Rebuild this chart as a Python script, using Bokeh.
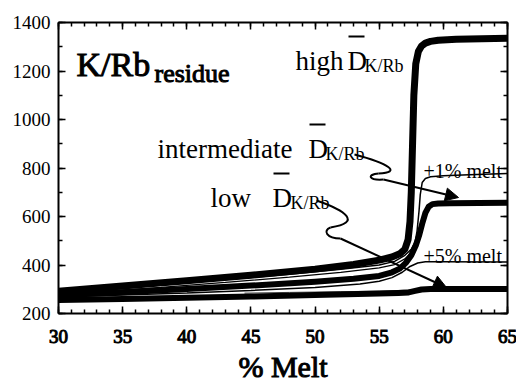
from bokeh.plotting import figure
from bokeh.models import LinearAxis, SingleIntervalTicker, Range1d, Arrow, NormalHead
from bokeh.models.glyphs import Text
from bokeh.core.properties import value
from bokeh.embed import file_html
from bokeh.resources import INLINE

# ---- data ----
melt_high = [30, 35, 40, 45, 50, 53, 55, 56, 56.6, 57.0, 57.25, 57.4, 57.5, 57.6, 57.7, 57.85, 58.05, 58.3, 58.6, 59.0, 59.6, 61, 63, 65]
kr_high = [292, 313, 335, 358, 383, 402, 420, 433, 446, 465, 505, 580, 700, 900, 1100, 1230, 1280, 1303, 1315, 1322, 1327, 1331, 1333, 1335]

melt_int = [30, 35, 40, 45, 50, 53, 55, 56, 56.6, 57.1, 57.5, 57.85, 58.1, 58.35, 58.6, 58.85, 59.15, 59.6, 60.5, 65]
kr_int = [275, 288, 301, 315, 331, 343, 355, 370, 385, 410, 440, 480, 520, 570, 615, 640, 651, 654, 655, 657]

melt_low = [30, 35, 40, 45, 50, 55, 56.5, 57.3, 57.8, 58.3, 59, 61, 65]
kr_low = [256, 260, 265, 270, 276, 282, 285, 287, 293, 299, 301, 301, 301]

melt_p1 = [30, 33, 38, 43, 48, 52, 55, 56.2, 57.0, 57.5, 57.8, 57.95, 58.1, 58.2, 58.35, 58.6, 59.0, 60, 62, 65]
kr_p1 = [288, 296, 318, 340, 362, 382, 400, 415, 440, 465, 495, 540, 620, 690, 740, 757, 764, 768, 772, 777]

melt_p5 = [30, 35, 40, 45, 50, 53.5, 55, 56, 56.8, 57.4, 58, 58.6, 60, 65]
kr_p5 = [268, 276, 285, 295, 307, 322, 333, 348, 370, 394, 408, 413, 413, 412]

melt_extra = [33, 38, 43, 48, 52, 55, 56.2, 57.0, 57.5, 57.9, 58.2, 58.5, 58.8, 59.2, 60]
kr_extra = [290, 308, 328, 350, 370, 388, 402, 425, 452, 495, 550, 610, 640, 652, 655]

melt_gray = [44.5, 48, 52, 55, 56.5, 57.3, 58]
kr_gray = [284, 287, 290, 292, 295, 297, 299]

x_tick_values = [30, 35, 40, 45, 50, 55, 60, 65]
x_tick_labels = ["30", "35", "40", "45", "50", "55", "60", "65"]
y_tick_values = [200, 400, 600, 800, 1000, 1200, 1400]
y_tick_labels = ["200", "400", "600", "800", "1000", "1200", "1400"]

X0, X1, Y0, Y1 = 30, 65, 200, 1400
W, H = 516, 383
# plot box in page pixels (left, right, top, bottom)
BL, BR, BT, BB = 58, 507, 22, 313


def fx(px):
    return X0 + (px - BL) * (X1 - X0) / (BR - BL)


def fy(py):
    return Y0 + (BB - py) * (Y1 - Y0) / (BB - BT)


FONT = "Liberation Serif"
HAS_OUTLINE = "text_outline_color" in Text.properties()

# the frame spans the whole page; the axes are pinned to the data box
p = figure(width=W, height=H, x_range=Range1d(fx(0), fx(W)), y_range=Range1d(fy(H), fy(0)),
           output_backend="svg", toolbar_location=None,
           x_axis_location=None, y_axis_location=None,
           min_border_left=0, min_border_right=0, min_border_top=0, min_border_bottom=0)
p.grid.visible = False
p.outline_line_color = None
p.background_fill_color = "white"
p.border_fill_color = "white"


def make_axis(interval, minor, loc, bounds):
    ax = LinearAxis(fixed_location=loc, bounds=bounds)
    ax.ticker = SingleIntervalTicker(interval=interval, num_minor_ticks=minor)
    ax.axis_line_width = 2
    ax.axis_line_color = "black"
    ax.major_tick_in = 7
    ax.major_tick_out = 0
    ax.minor_tick_in = 4
    ax.minor_tick_out = 0
    ax.major_tick_line_width = 1.5
    ax.minor_tick_line_width = 1.5
    ax.major_tick_line_color = "black"
    ax.minor_tick_line_color = "black"
    ax.major_label_text_font_size = "0px"
    ax.major_label_text_color = None
    ax.major_label_standoff = 0
    return ax


p.add_layout(make_axis(5, 5, Y0, (X0, X1)), "below")
p.add_layout(make_axis(5, 5, Y1, (X0, X1)), "above")
p.add_layout(make_axis(200, 2, X0, (Y0, Y1)), "left")
p.add_layout(make_axis(200, 2, X1, (Y0, Y1)), "right")

# ---- curves ----
p.line(melt_gray, kr_gray, line_width=1, line_color="#444444")
p.line(melt_p5, kr_p5, line_width=1.5, line_color="black")
p.line(melt_extra, kr_extra, line_width=1.3, line_color="black")
p.line(melt_p1, kr_p1, line_width=1.5, line_color="black")
p.line(melt_low, kr_low, line_width=6, line_color="black", line_join="round")
p.line(melt_int, kr_int, line_width=6, line_color="black", line_join="round")
p.line(melt_high, kr_high, line_width=7, line_color="black", line_join="round")


# ---- texts ----
def put_text(xs, ys, texts, size, bold=False, align="left", baseline="alphabetic"):
    kw = dict(text_font=value(FONT), text_font_size=size, text_align=align,
              text_baseline=baseline, text_color="black")
    if bold and HAS_OUTLINE:
        kw["text_outline_color"] = "black"
    p.text(x=xs, y=ys, text=texts, **kw)


# tick labels at the tick values
put_text(x_tick_values, [fy(336)] * len(x_tick_values), x_tick_labels, "19px", bold=True, align="center")
put_text([fx(50)] * len(y_tick_values), y_tick_values, y_tick_labels, "19px", align="right", baseline="middle")
put_text([(X0 + X1) / 2], [fy(366)], ["% Melt"], "30px", bold=True, align="center")


def txt(px, py, s, size, bold=False):
    put_text([fx(px)], [fy(py)], [s], size, bold=bold)


def overbar(px0, px1, py):
    p.segment(x0=[fx(px0)], y0=[fy(py)], x1=[fx(px1)], y1=[fy(py)], line_width=1.8, line_color="black")


txt(76, 64, "K/Rb", "34px", True)
txt(154, 73, "residue", "26px", True)

txt(295, 60, "high", "27px")
txt(347, 60, "D", "27px")
overbar(348, 364, 36)
txt(364, 65, "K/Rb", "18px")

txt(157, 148, "intermediate", "27px")
txt(308, 148, "D", "27px")
overbar(309, 325, 124)
txt(325, 153, "K/Rb", "18px")

txt(210, 197, "low", "27px")
txt(272, 197, "D", "27px")
overbar(273, 289, 173)
txt(290, 202, "K/Rb", "18px")

txt(423, 170, "+1% melt", "20px")
txt(423, 255, "+5% melt", "20px")


def bez(p0, c0, c1, p1):
    p.bezier(x0=[fx(p0[0])], y0=[fy(p0[1])], x1=[fx(p1[0])], y1=[fy(p1[1])],
             cx0=[fx(c0[0])], cy0=[fy(c0[1])], cx1=[fx(c1[0])], cy1=[fy(c1[1])],
             line_width=2, line_color="black")


def arrow(a, b):
    p.add_layout(Arrow(end=NormalHead(size=13, fill_color="black", line_color="black", line_width=1),
                       x_start=fx(a[0]), y_start=fy(a[1]), x_end=fx(b[0]), y_end=fy(b[1]),
                       line_width=2, line_color="black"))


# arrow from "intermediate"
bez((354, 154), (388, 163), (402, 172), (378, 173))
bez((378, 173), (366, 174), (368, 180), (383, 179))
arrow((383, 179), (458, 197))

# arrow from "low"
bez((316, 200), (345, 210), (362, 222), (330, 227))
bez((330, 227), (322, 230), (326, 238), (340, 238))
arrow((340, 238), (446, 287))

open("out.html", "w").write(file_html(p, INLINE))
